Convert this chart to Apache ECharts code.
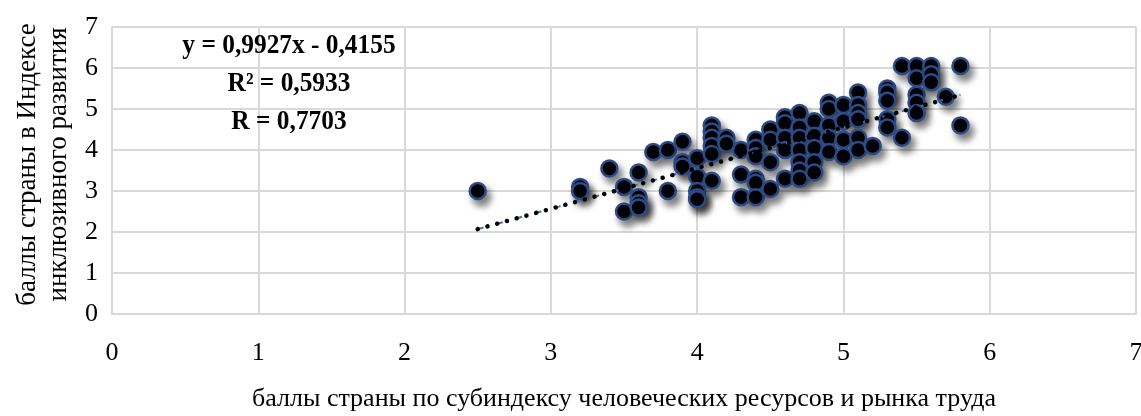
<!DOCTYPE html>
<html>
<head>
<meta charset="utf-8">
<script src="https://cdn.jsdelivr.net/npm/echarts@6/dist/echarts.min.js"></script>
<style>
  html, body { margin: 0; padding: 0; background: #fff; }
  #chart { width: 1141px; height: 416px; }
</style>
</head>
<body>
<div id="chart"></div>
<script>
// баллы стран: [субиндекс человеческих ресурсов, индекс инклюзивного развития]
const points = [
  [2.5, 3.0],
  [3.2, 3.1], [3.2, 3.0],
  [3.4, 3.55],
  [3.5, 3.1], [3.5, 2.5],
  [3.6, 3.45], [3.6, 2.85], [3.6, 2.7], [3.6, 2.6],
  [3.7, 3.95],
  [3.8, 4.0], [3.8, 3.0],
  [3.9, 4.2], [3.9, 3.7], [3.9, 3.6],
  [4.0, 3.8], [4.0, 3.35], [4.0, 3.0], [4.0, 2.85], [4.0, 2.8],
  [4.1, 4.6], [4.1, 4.45], [4.1, 4.3], [4.1, 4.1], [4.1, 3.9], [4.1, 3.25],
  [4.2, 4.3], [4.2, 4.15],
  [4.3, 4.0], [4.3, 3.4], [4.3, 2.85],
  [4.4, 4.25], [4.4, 4.05], [4.4, 3.85], [4.4, 3.3], [4.4, 3.2], [4.4, 2.85],
  [4.5, 4.5], [4.5, 4.25], [4.5, 3.7], [4.5, 3.05],
  [4.6, 4.8], [4.6, 4.65], [4.6, 4.3], [4.6, 4.0], [4.6, 3.3],
  [4.7, 4.9], [4.7, 4.55], [4.7, 4.3], [4.7, 4.0], [4.7, 3.7], [4.7, 3.5], [4.7, 3.3],
  [4.8, 4.7], [4.8, 4.35], [4.8, 4.05], [4.8, 3.7], [4.8, 3.45],
  [4.9, 5.15], [4.9, 5.0], [4.9, 4.6], [4.9, 4.3], [4.9, 3.95],
  [5.0, 5.1], [5.0, 4.7], [5.0, 4.25], [5.0, 3.85],
  [5.1, 5.4], [5.1, 5.1], [5.1, 4.9], [5.1, 4.75], [5.1, 4.3], [5.1, 4.0],
  [5.2, 4.1],
  [5.3, 5.5], [5.3, 5.4], [5.3, 5.2], [5.3, 4.75], [5.3, 4.55],
  [5.4, 6.05], [5.4, 4.3],
  [5.5, 6.05], [5.5, 5.75], [5.5, 5.35], [5.5, 5.15], [5.5, 4.9],
  [5.6, 6.05], [5.6, 5.85], [5.6, 5.65],
  [5.7, 5.3],
  [5.8, 6.05], [5.8, 4.6]
];

// линия тренда (концы по графику)
const trendLine = [[2.5, 2.07], [5.8, 5.34]];

const equationLines = ['y = 0,9927x - 0,4155', 'R² = 0,5933', 'R = 0,7703'];

const xTitle = 'баллы страны по субиндексу человеческих ресурсов и рынка труда';
const yTitle = 'баллы страны в Индексе\nинклюзивного развития';

const font = '"Liberation Serif", "DejaVu Serif", serif';
const gridColor = '#d9d9d9';

const myChart = echarts.init(document.getElementById('chart'), null, { renderer: 'canvas' });

myChart.setOption({
  animation: false,
  grid: { left: 112, right: 5, top: 27, bottom: 102, outerBoundsMode: 'none', containLabel: false },
  xAxis: {
    type: 'value', min: 0, max: 7, interval: 1,
    name: xTitle, nameLocation: 'middle', nameGap: 72,
    nameTextStyle: { fontFamily: font, fontSize: 26, color: '#000' },
    axisLine: { show: true, lineStyle: { color: gridColor, width: 2 } },
    axisTick: { show: false },
    axisLabel: { fontFamily: font, fontSize: 26, color: '#000', margin: 26 },
    splitLine: { show: true, lineStyle: { color: gridColor, width: 2 } }
  },
  yAxis: {
    type: 'value', min: 0, max: 7, interval: 1,
    name: yTitle, nameLocation: 'middle', nameGap: 36, nameRotate: 90,
    nameTextStyle: { fontFamily: font, fontSize: 27, color: '#000', lineHeight: 31, padding: [0, 0, 0, 12] },
    axisLine: { show: true, lineStyle: { color: gridColor, width: 2 } },
    axisTick: { show: false },
    axisLabel: { fontFamily: font, fontSize: 26, color: '#000', margin: 14 },
    splitLine: { show: true, lineStyle: { color: gridColor, width: 2 } }
  },
  graphic: equationLines.map((t, i) => ({
    type: 'text',
    x: 289, y: 46 + i * 38,
    scaleX: 0.94,
    z: 10,
    style: {
      text: t, align: 'center', verticalAlign: 'middle',
      fontFamily: font, fontSize: 27, fontWeight: 'bold', fill: '#000'
    }
  })),
  series: [
    {
      type: 'scatter',
      data: points,
      symbol: 'circle',
      symbolSize: 16,
      itemStyle: {
        color: '#020308',
        opacity: 1,
        borderColor: '#2d4c86',
        borderWidth: 2.5,
        shadowBlur: 7,
        shadowOffsetX: 4,
        shadowOffsetY: 6,
        shadowColor: 'rgba(0,0,0,0.5)'
      },
      z: 2
    },
    {
      type: 'line',
      data: trendLine,
      symbol: 'none',
      lineStyle: { color: '#4472c4', width: 2, type: [6, 14] },
      z: 3
    },
    {
      type: 'line',
      data: trendLine,
      symbol: 'none',
      lineStyle: { color: '#000', width: 4.5, type: [0.1, 10], cap: 'round' },
      z: 4
    }
  ]
});
</script>
</body>
</html>
